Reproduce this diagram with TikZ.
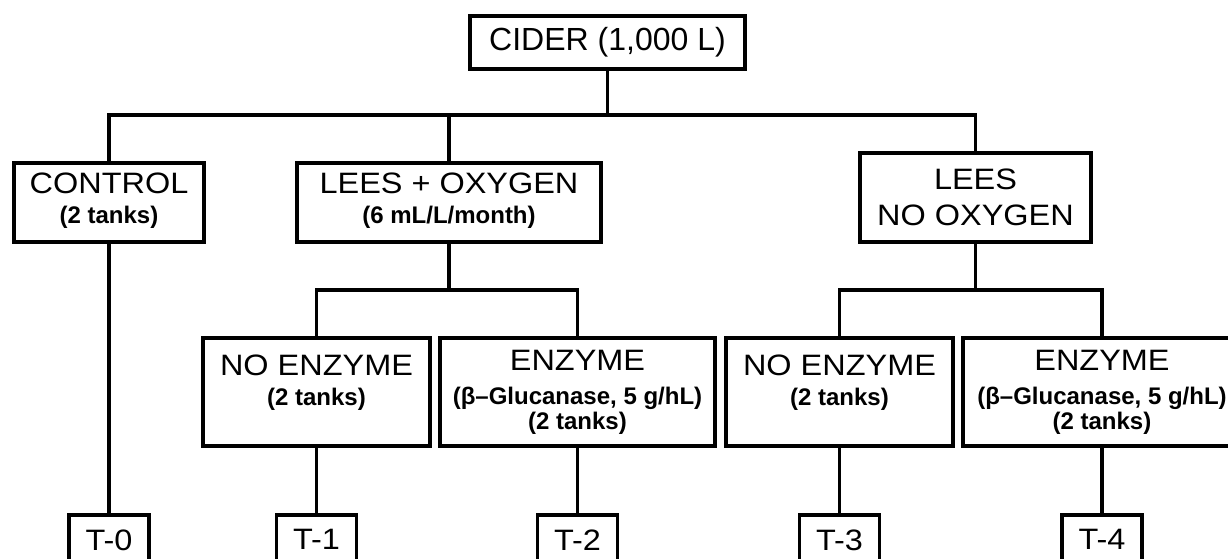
\documentclass[tikz,border=0pt]{standalone}
\usepackage{fontspec}
\setmainfont{Liberation Sans}
\newfontfamily\regf[FakeStretch=1.1]{Liberation Sans}
\newcommand{\mt}[1]{{\regf\fontsize{29.5}{30}\selectfont #1}}
\newcommand{\st}[1]{{\bfseries\fontsize{24}{30}\selectfont #1}}
\begin{document}
\begin{tikzpicture}[x=1pt,y=-1pt,
  box/.style={draw, line width=3.6pt, inner sep=0pt, align=center, anchor=center,
    font=\fontsize{24}{30}\selectfont},
  tbox/.style={draw, line width=3.6pt, inner sep=0pt, anchor=north,
    minimum width=80pt, minimum height=50pt, text depth=0pt,
    font=\regf\fontsize{29.5}{30}\selectfont},
  conn/.style={line width=3.2pt, line join=miter}]
\clip (0,0) rectangle (1228,559);
\fill[white] (0,0) rectangle (1228,559);
\coordinate (busA) at (0,115);
\coordinate (busB) at (0,290);
\coordinate (busT) at (0,513);
% level 0
\node[box, minimum width=275pt, minimum height=53pt] (cider) at (607.5,42.5)
  {{\fontsize{32}{36}\selectfont CIDER (1,000 L)}};
% level 1
\node[box, minimum width=190pt, minimum height=79pt, text depth=9pt] (control) at (109,202.5)
  {\mt{CONTROL}\\\st{(2 tanks)}};
\node[box, minimum width=304pt, minimum height=79pt, text depth=9pt] (lox) at (449,202.5)
  {\mt{LEES + OXYGEN}\\\st{(6 mL/L/month)}};
\node[box, minimum width=231pt, minimum height=89pt] (lno) at (975.5,197.5)
  {\mt{LEES}\\[6pt]\mt{NO OXYGEN}};
% level 2
\node[box, minimum width=227pt, minimum height=108pt, text depth=24pt] (ne1) at (316.5,392)
  {\mt{NO ENZYME}\\\st{(2 tanks)}};
\node[box, minimum width=275pt, minimum height=108pt] (e1) at (577.5,392)
  {\mt{ENZYME}\\[4pt]\st{(β–Glucanase, 5 g/hL)}\\[-5pt]\st{(2 tanks)}};
\node[box, minimum width=227pt, minimum height=108pt, text depth=24pt] (ne2) at (839.5,392)
  {\mt{NO ENZYME}\\\st{(2 tanks)}};
\node[box, minimum width=278pt, minimum height=108pt] (e2) at (1102,392)
  {\mt{ENZYME}\\[4pt]\st{(β–Glucanase, 5 g/hL)}\\[-5pt]\st{(2 tanks)}};
% level 3
\node[tbox] (t0) at (control.south |- busT) {T-0};
\node[tbox] (t1) at (ne1.south |- busT) {T-1};
\node[tbox] (t2) at (e1.south |- busT) {T-2};
\node[tbox] (t3) at (ne2.south |- busT) {T-3};
\node[tbox] (t4) at (e2.south |- busT) {T-4};
% connectors
\draw[conn] (cider.south) -- (cider.south |- busA);
\draw[conn] (control.north) -- (control.north |- busA) -- (lno.north |- busA) -- (lno.north);
\draw[conn] (lox.north) -- (lox.north |- busA);
\draw[conn] (lox.south) -- (lox.south |- busB);
\draw[conn] (ne1.north) -- (ne1.north |- busB) -- (e1.north |- busB) -- (e1.north);
\draw[conn] (lno.south) -- (lno.south |- busB);
\draw[conn] (ne2.north) -- (ne2.north |- busB) -- (e2.north |- busB) -- (e2.north);
\draw[conn] (control.south) -- (t0.north);
\draw[conn] (ne1.south) -- (t1.north);
\draw[conn] (e1.south) -- (t2.north);
\draw[conn] (ne2.south) -- (t3.north);
\draw[conn] (e2.south) -- (t4.north);
\end{tikzpicture}
\end{document}
